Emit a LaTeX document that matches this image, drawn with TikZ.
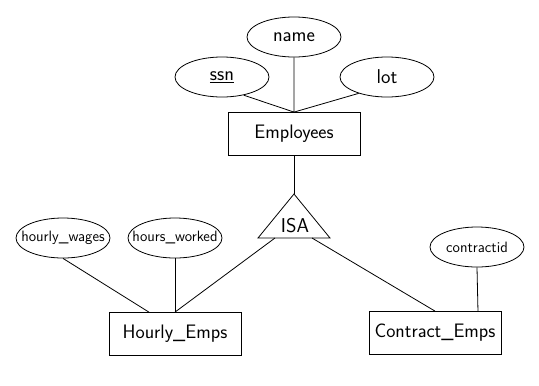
\documentclass[tikz,border=0pt]{standalone}
\usepackage{tikz}
\usetikzlibrary{shapes.geometric}
\tikzstyle{ent}=[inner sep=0pt, draw, shape=rectangle, minimum width=132pt, minimum height=43pt, font=\fontsize{19.5}{19.5}\selectfont\sffamily]
\tikzstyle{attr}=[inner sep=0pt, draw, shape=ellipse, minimum width=94pt, minimum height=40pt]
\tikzstyle{big}=[font=\fontsize{20}{20}\selectfont\sffamily]
\tikzstyle{small}=[inner xsep=-10pt, font=\fontsize{15}{15}\selectfont\sffamily]

\begin{document}
\begin{tikzpicture}[x=1pt, y=-1pt, line width=0.8pt]
\useasboundingbox (0,0) rectangle (539,386);
% entity sets
\node[ent] (emp) at (294,134) {Employees};
\node[ent] (hourly) at (175,334) {Hourly\_Emps};
\node[ent] (contract) at (435,333) {Contract\_Emps};
% attributes
\node[attr, big] (name) at (294,37) {name};
\node[attr, big] (ssn) at (222,77) {\underline{ssn}};
\node[attr, big] (lot) at (387,77) {lot};
\node[attr, small] (wages) at (63,238) {hourly\_wages};
\node[attr, small] (worked) at (175,238) {hours\_worked};
\node[attr, small] (cid) at (477,247) {contractid};
% isa triangle
\coordinate (isatop) at (294,194);
\coordinate (isaleft) at (258,238);
\coordinate (isaright) at (330,238);
\coordinate (isal) at (275,238);
\coordinate (isar) at (312,238);
\node[big] (isa) at (295,226) {ISA};
\draw (isatop) -- (isaleft) -- (isaright) -- cycle;
%
\draw (ssn.-40) -- (emp.north) -- (name.south);
\draw (lot.-150) -- (emp.north);
\draw (emp.south) -- (isatop);
\draw (isal) -- (hourly.north);
\draw (isar) -- (contract.north);
\draw (wages.south) -- (hourly.140);
\draw (worked.south) -- (hourly.north);
\draw (cid.south) -- (contract.27);
\end{tikzpicture}
\end{document}
